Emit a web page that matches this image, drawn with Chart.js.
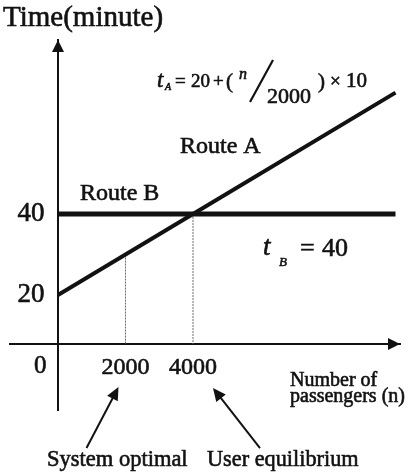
<!DOCTYPE html>
<html>
<head>
<meta charset="utf-8">
<script src="https://cdn.jsdelivr.net/npm/chart.js@4.4.1/dist/chart.umd.min.js"></script>
<style>
  html, body { margin: 0; padding: 0; background: #fff; }
</style>
</head>
<body>
<canvas id="myChart" width="411" height="474"></canvas>
<script>
// travel time of the two routes against number of passengers n
const passengers = [0, 2000, 4000, 10000];
const routeATime = [20, 30, 40, 70];   // t_A = 20 + (n/2000) x 10
const routeBTime = [40, 40, 40, 40];   // t_B = 40
const xTickValues = [2000, 4000];
const yTickValues = [20, 40];
const markedFlows = [2000, 4000];      // system optimal, user equilibrium
const markedTimes = [30, 40];
const axisBase = 7.9;                  // horizontal axis drawn just under t = 20

const serif = '"Liberation Serif", "DejaVu Serif", serif';
const ink = '#121212';
const weight = 0.6;                    // thin outline to darken the serif text

function font(size, italic) {
    return (italic ? 'italic ' : '') + size + 'px ' + serif;
}

function arrow(ctx, x1, y1, x2, y2, head, width) {
    const a = Math.atan2(y2 - y1, x2 - x1);
    ctx.beginPath();
    ctx.moveTo(x1, y1);
    ctx.lineTo(x2 - Math.cos(a) * head * 0.8, y2 - Math.sin(a) * head * 0.8);
    ctx.lineWidth = 2;
    ctx.stroke();
    ctx.beginPath();
    ctx.moveTo(x2, y2);
    ctx.lineTo(x2 - head * Math.cos(a) + width * Math.sin(a), y2 - head * Math.sin(a) - width * Math.cos(a));
    ctx.lineTo(x2 - head * Math.cos(a) - width * Math.sin(a), y2 - head * Math.sin(a) + width * Math.cos(a));
    ctx.closePath();
    ctx.fill();
}

function text(ctx, str, x, y, size, italic) {
    ctx.font = font(size, italic);
    ctx.lineWidth = weight;
    ctx.fillText(str, x, y);
    ctx.strokeText(str, x, y);
}

// labels, arrowheads and the formula on top of the plot
const extras = {
    id: 'extras',
    afterDraw(chart) {
        const ctx = chart.ctx;
        const area = chart.chartArea;
        const xs = chart.scales.x;
        const ys = chart.scales.y;
        const x0 = xs.getPixelForValue(0);
        const yb = ys.getPixelForValue(axisBase);
        ctx.save();
        ctx.fillStyle = ink;
        ctx.strokeStyle = ink;
        ctx.textAlign = 'left';
        ctx.textBaseline = 'alphabetic';

        // axis arrowheads
        ctx.beginPath();
        ctx.moveTo(x0, area.top);
        ctx.lineTo(x0 - 6, area.top + 12);
        ctx.lineTo(x0 + 6, area.top + 12);
        ctx.closePath();
        ctx.fill();
        ctx.beginPath();
        ctx.moveTo(area.right, yb);
        ctx.lineTo(area.right - 12, yb - 6);
        ctx.lineTo(area.right - 12, yb + 6);
        ctx.closePath();
        ctx.fill();

        text(ctx, 'Time(minute)', 3, 26, 29);
        text(ctx, '0', x0 - 24, yb + 29, 25);

        text(ctx, 'Route A', 180, 153, 24);
        text(ctx, 'Route B', 80, 200, 24);

        // t_A = 20 + (n/2000) x 10
        text(ctx, 't', 157, 87, 23, true);
        text(ctx, 'A', 165, 90, 10, true);
        text(ctx, '=', 175, 87, 19);
        text(ctx, '20', 191, 87, 19);
        text(ctx, '+', 213, 87, 19);
        text(ctx, '(', 226, 88, 21);
        text(ctx, 'n', 239, 79, 16, true);
        ctx.beginPath();
        ctx.moveTo(250, 102);
        ctx.lineTo(273, 60);
        ctx.lineWidth = 2.2;
        ctx.stroke();
        text(ctx, '2000', 267, 103, 22);
        text(ctx, ')', 318, 88, 21);
        text(ctx, '\u00d7', 330, 87, 19);
        text(ctx, '10', 346, 87, 21);

        // t_B = 40
        text(ctx, 't', 263, 255, 27, true);
        text(ctx, 'B', 279, 266, 13, true);
        text(ctx, '=', 300, 256, 26);
        text(ctx, '40', 322, 256, 26);

        text(ctx, 'Number of', 290, 386, 20);
        text(ctx, 'passengers (n)', 290, 402, 20);

        // pointers to the two marked flows
        const p1 = xs.getPixelForValue(markedFlows[0]);
        const p2 = xs.getPixelForValue(markedFlows[1]);
        arrow(ctx, p1 - 39, yb + 104, p1 - 7, yb + 43, 13, 6);
        arrow(ctx, p2 + 67, yb + 104, p2 + 20, yb + 44, 13, 6);
        text(ctx, 'System optimal', 47, 466, 22.5);
        text(ctx, 'User equilibrium', 207, 466, 22.3);
        ctx.restore();
    }
};

const dropLines = markedFlows.map((n, i) => ({
    data: [{ x: n, y: markedTimes[i] }, { x: n, y: axisBase }],
    borderColor: '#6a6a6a',
    borderWidth: 1,
    borderDash: [2, 1],
    pointRadius: 0
}));

new Chart(document.querySelector('#myChart').getContext('2d'), {
    type: 'line',
    data: {
        datasets: [
            {
                label: 'Route A',
                data: passengers.map((n, i) => ({ x: n, y: routeATime[i] })),
                borderColor: ink,
                borderWidth: 4,
                pointRadius: 0
            },
            {
                label: 'Route B',
                data: passengers.map((n, i) => ({ x: n, y: routeBTime[i] })),
                borderColor: ink,
                borderWidth: 5,
                pointRadius: 0
            },
            ...dropLines
        ]
    },
    options: {
        responsive: false,
        animation: false,
        devicePixelRatio: 1,
        layout: { padding: { left: 10, right: 11, top: 40, bottom: 64 } },
        plugins: {
            legend: { display: false },
            tooltip: { enabled: false }
        },
        scales: {
            x: {
                type: 'linear',
                min: -1422,
                max: 10133,
                position: { y: axisBase },
                grid: { display: false, drawTicks: false },
                border: { display: true, color: ink, width: 2 },
                afterBuildTicks: (s) => { s.ticks = xTickValues.map(v => ({ value: v })); },
                ticks: {
                    color: ink,
                    padding: 9,
                    textStrokeColor: ink,
                    textStrokeWidth: weight,
                    font: { family: serif, size: 24 },
                    callback: (v) => String(v)
                }
            },
            y: {
                type: 'linear',
                min: -8.4,
                max: 83,
                position: { x: 0 },
                grid: { display: false, drawTicks: false },
                border: { display: true, color: ink, width: 2 },
                afterBuildTicks: (s) => { s.ticks = yTickValues.map(v => ({ value: v })); },
                ticks: {
                    color: ink,
                    textStrokeColor: ink,
                    textStrokeWidth: weight,
                    font: { family: serif, size: 27 },
                    // a trailing en space keeps the label clear of the axis line
                    callback: (v) => v + '\u2002'
                }
            }
        }
    },
    plugins: [extras]
});
</script>
</body>
</html>
